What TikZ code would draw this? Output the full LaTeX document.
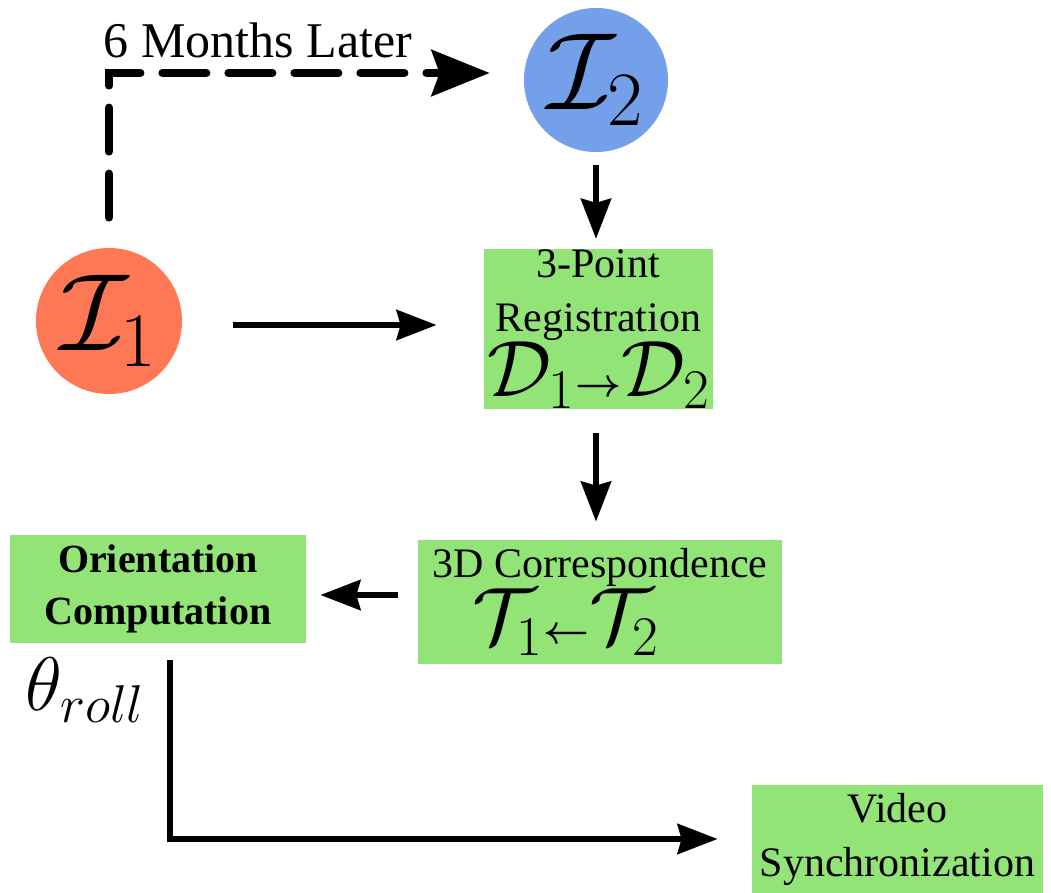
\RequirePackage{fix-cm}
\documentclass[tikz,border=0pt]{standalone}
\usepackage{amsmath}
\usepackage{fontspec}
\setmainfont{Liberation Serif}
\usetikzlibrary{arrows.meta}
\usetikzlibrary{positioning}
\definecolor{firstimg}{HTML}{FF7855}
\definecolor{secondimg}{HTML}{73A0E8}
\definecolor{stagegreen}{HTML}{93E477}
\newcommand{\bigmath}{\fontsize{40}{42}\selectfont}
\newcommand{\tinyto}{{\boldsymbol{\scriptscriptstyle\rightarrow}}}
\newcommand{\tinyfrom}{{\boldsymbol{\scriptscriptstyle\leftarrow}}}

\tikzset{
  frame/.style={circle, inner sep=0pt, font=\fontsize{55}{55}\selectfont},
  stage/.style={rectangle, fill=stagegreen, inner sep=0pt, align=center,
    font=\fontsize{21}{27}\selectfont},
  flow/.style={line width=3pt, -{Stealth[length=20pt, width=15pt, inset=2pt]}},
  later/.style={line width=4pt, dash pattern=on 22pt off 11pt, line cap=round,
    -{Stealth[length=29pt, width=23pt, inset=4pt]}},
}

\begin{document}
\begin{tikzpicture}[x=0.5pt, y=-0.5pt]
    \useasboundingbox (0,0) rectangle (1051,893);
    \node[frame, fill=firstimg, minimum size=73pt] (i1) at (109,321) {$\mathcal{I}_{1}$};
    \node[frame, fill=secondimg, minimum size=72pt] (i2) at (596,80) {$\mathcal{I}_{2}$};
    \node[stage, minimum width=114.5pt, minimum height=79pt] (reg) at (598.5,329)
      {3-Point\\Registration\\{\bigmath$\mathcal{D}_{1}\tinyto\mathcal{D}_{2}$}};
    \node[stage, minimum width=182pt, minimum height=62pt] (corr) at (600,602)
      {3D Correspondence\\{\bigmath$\mathcal{T}_{1}\tinyfrom\mathcal{T}_{2}$}\hspace*{34pt}};
    \node[stage, minimum width=148pt, minimum height=54pt, font=\fontsize{20}{26}\selectfont\bfseries] (orient) at (158,589)
      {Orientation\\Computation};
    \node[stage, minimum width=145.5pt, minimum height=54pt] (video) at (897.5,839)
      {Video\\Synchronization};
    \node[font=\fontsize{25}{25}\selectfont] (later) at (258,40) {6 Months Later};
    \node[font=\fontsize{38}{38}\selectfont] (roll) at (85,690) {$\theta_{roll}$};
    \coordinate (turn) at (109,73);
    \coordinate (sync) at (170,839);

    % Connect the nodes
    \draw[later, shorten <=15pt, shorten >=17pt] (i1.north) -- (turn) -- (turn -| i2.west);
    \draw[flow, shorten <=6.5pt, shorten >=5pt] (i2.south) -- (i2.south |- reg.north);
    \draw[flow, shorten <=25.5pt, shorten >=23.5pt] ([yshift=-2pt]i1.east) -- ([yshift=-2pt]i1.east -| reg.west);
    \draw[flow, shorten <=12pt, shorten >=9pt] ([xshift=-1.25pt]reg.south) -- ([xshift=-1.25pt]reg.south |- corr.north);
    \draw[flow, shorten <=10pt, shorten >=7pt] ([yshift=3.5pt]corr.west) -- ([yshift=3.5pt]corr.west -| orient.east);
    \draw[flow, shorten <=8.5pt, shorten >=17pt] (orient.south -| sync) -- (sync) -- (video);
  \end{tikzpicture}
\end{document}
